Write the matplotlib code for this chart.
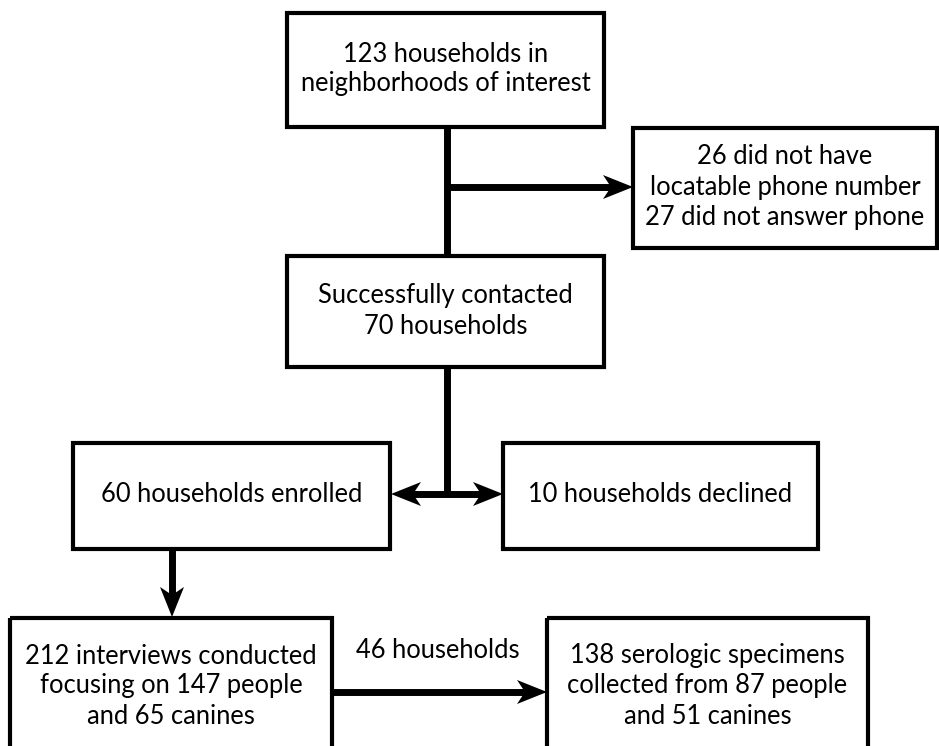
import matplotlib

matplotlib.use("Agg")
import matplotlib.pyplot as plt
from matplotlib.patches import Rectangle, Polygon

plt.rcParams["font.family"] = ["Lato", "DejaVu Sans"]

# flowchart text
box_texts = [
    "123 households in\nneighborhoods of interest",
    "26 did not have\nlocatable phone number\n27 did not answer phone",
    "Successfully contacted\n70 households",
    "60 households enrolled",
    "10 households declined",
    "212 interviews conducted\nfocusing on 147 people\nand 65 canines",
    "138 serologic specimens\ncollected from 87 people\nand 51 canines",
]
edge_label = "46 households"

# layout in pixels (x0, y0, x1, y1), y downwards
BOXES = [
    (287, 13, 604, 127),
    (633, 128, 937, 248),
    (287, 256, 604, 367),
    (73, 443, 390, 549),
    (503, 443, 818, 549),
    (10, 618, 332, 770),
    (547, 618, 868, 770),
]
TEXT_Y = [69, 187, 311, 495, 495, 686, 686]

W, H = 939, 746
fig = plt.figure(figsize=(W / 100, H / 100), dpi=100)
ax = fig.add_axes([0, 0, 1, 1])
ax.set_xlim(0, W)
ax.set_ylim(H, 0)
ax.axis("off")

BOX_LW = 3.0
LINE_LW = 5.0
FS = 18.4


def head(x, y, direction, length=30, half=12, notch=8):
    dx, dy = {"right": (1, 0), "left": (-1, 0), "down": (0, 1)}[direction]
    px, py = -dy, dx
    pts = [
        (x, y),
        (x - dx * length + px * half, y - dy * length + py * half),
        (x - dx * (length - notch), y - dy * (length - notch)),
        (x - dx * length - px * half, y - dy * length - py * half),
    ]
    ax.add_patch(Polygon(pts, closed=True, color="black", lw=0, zorder=3))


for (x0, y0, x1, y1), txt, ty in zip(BOXES, box_texts, TEXT_Y):
    ax.add_patch(Rectangle((x0, y0), x1 - x0, y1 - y0, fill=False, lw=BOX_LW,
                           edgecolor="black", zorder=2))
    ax.text((x0 + x1) / 2, ty, txt, ha="center", va="center", fontsize=FS,
            linespacing=1.25, color="black")

# connectors
ax.plot([447, 447], [127, 256], color="black", lw=LINE_LW, solid_capstyle="butt")
ax.plot([447, 612], [187, 187], color="black", lw=LINE_LW, solid_capstyle="butt")
head(633, 187, "right")

ax.plot([447, 447], [367, 494], color="black", lw=LINE_LW, solid_capstyle="butt")
ax.plot([410, 484], [494, 494], color="black", lw=LINE_LW, solid_capstyle="butt")
head(391, 494, "left")
head(503, 494, "right")

ax.plot([172, 172], [549, 598], color="black", lw=LINE_LW, solid_capstyle="butt")
head(172, 617, "down")

ax.plot([332, 528], [692, 692], color="black", lw=LINE_LW, solid_capstyle="butt")
head(547, 692, "right")
ax.text(438, 651, edge_label, ha="center", va="center", fontsize=FS, color="black")

fig.savefig("out.png", dpi=100)
